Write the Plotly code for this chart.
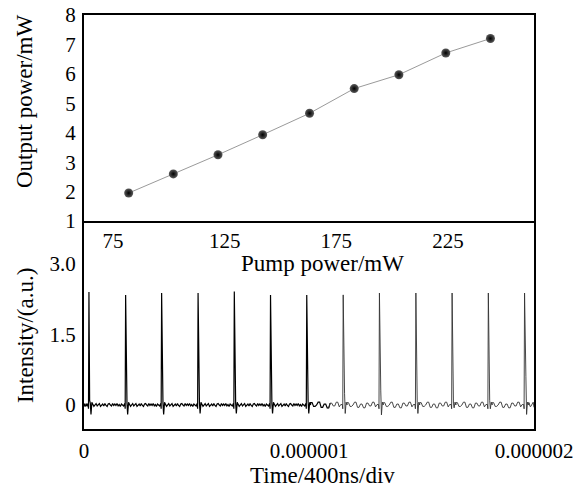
import plotly.graph_objects as go
from plotly.subplots import make_subplots

# ---------------- data: top panel ----------------
pump_power = [82, 102, 122, 142, 163, 183, 203, 224, 244]
output_power = [1.95, 2.6, 3.25, 3.93, 4.66, 5.5, 5.97, 6.71, 7.2]
top_x_ticks = [75, 125, 175, 225]
top_y_ticks = [1, 2, 3, 4, 5, 6, 7, 8]

# ---------------- data: bottom panel (pulse train, microseconds) ----------------
pulse_time_us = [0.022, 0.185, 0.345, 0.507, 0.668, 0.829, 0.990, 1.152, 1.313,
                 1.475, 1.636, 1.797, 1.958]
pulse_peak = [2.40, 2.34, 2.38, 2.38, 2.41, 2.34, 2.34, 2.34, 2.38, 2.38, 2.38, 2.38, 2.38]
pulse_tail = [0.10, 0.08, 0.10, 0.12, 0.10, 0.08, 0.17, 0.70, 0.80, 0.15, 0.10, 0.28, 1.00]
pulse_tail2 = [0.04, 0.03, 0.04, 0.05, 0.04, 0.03, 0.08, 0.25, 0.30, 0.06, 0.04, 0.10, 0.60]
pulse_dip = [-0.20, -0.20, -0.20, -0.18, -0.18, -0.18, -0.18, -0.18, -0.21, -0.18, -0.06, -0.08, -0.20]
noise_left = [0.02, -0.03, 0.01, 0.03, -0.02, 0.00, 0.03, -0.03, 0.01, 0.02, -0.02,
              0.03, -0.01, -0.03, 0.02, 0.03, 0.00, -0.02, 0.03, -0.01, 0.02, -0.01,
              0.03, -0.02, 0.01, -0.03, 0.02, 0.00, -0.02, 0.03]
noise_right = [0.05, 0.05, -0.03, -0.03, 0.00, 0.06, 0.06, -0.05, -0.05, 0.02, 0.02,
               -0.06, -0.06, 0.04, 0.04, -0.02, -0.02, 0.06, 0.06, -0.04, 0.01, 0.01]
bottom_x_ticks = [0, 1e-6, 2e-6]
bottom_x_text = ["0", "0.000001", "0.000002"]
bottom_y_ticks = [0, 1.5, 3.0]
bottom_y_text = ["0", "1.5", "3.0"]
split_us = 1.10

# ---------------- assemble pulse trace from the arrays ----------------
xs, ys = [], []
prev_end = 0.0
for i, tp in enumerate(pulse_time_us):
    noise = noise_left if tp < split_us else noise_right
    gap_end = tp - 0.004
    n = len(noise)
    for k, v in enumerate(noise):
        xs.append(prev_end + (gap_end - prev_end) * k / (n - 1))
        ys.append(v)
    xs += [tp - 0.002, tp, tp + 0.003, tp + 0.006, tp + 0.009, tp + 0.013, tp + 0.017]
    ys += [-0.08, pulse_peak[i], pulse_tail[i], pulse_tail2[i], pulse_dip[i], 0.06, 0.0]
    prev_end = tp + 0.017
for k, v in enumerate(noise_right[:8]):
    xs.append(prev_end + (2.0 - prev_end) * k / 7)
    ys.append(v)

left_x = [x * 1e-6 for x in xs if x <= split_us]
left_y = [y for x, y in zip(xs, ys) if x <= split_us]
right_x = [x * 1e-6 for x in xs if x >= split_us - 0.02]
right_y = [y for x, y in zip(xs, ys) if x >= split_us - 0.02]

# ---------------- figure ----------------
fig = make_subplots(rows=2, cols=1, vertical_spacing=0.0,
                    row_heights=[0.4976, 0.5024])

fig.add_trace(go.Scatter(x=pump_power, y=output_power, mode="lines+markers",
                         line=dict(color="#9a9a9a", width=1),
                         marker=dict(color="#5a5a5a", size=9, line=dict(width=0),
                                     gradient=dict(type="radial", color="#000000")),
                         showlegend=False), row=1, col=1)

fig.add_trace(go.Scatter(x=left_x, y=left_y, mode="lines",
                         line=dict(color="black", width=1.2), showlegend=False),
              row=2, col=1)
fig.add_trace(go.Scatter(x=right_x, y=right_y, mode="lines",
                         line=dict(color="#333333", width=0.9), showlegend=False),
              row=2, col=1)

font_ticks = dict(family="Liberation Serif", size=21, color="black")
axis_common = dict(showline=True, linecolor="black", linewidth=2,
                   showgrid=False, zeroline=False, ticks="", tickfont=font_ticks,
                   automargin=False)

fig.update_xaxes(range=[62, 263.5], tickvals=top_x_ticks, ticklabelstandoff=0,
                 mirror=True, row=1, col=1, **axis_common)
fig.update_yaxes(range=[1, 8], tickvals=top_y_ticks, ticklabelstandoff=2,
                 mirror=True, row=1, col=1, **axis_common)
fig.update_xaxes(range=[0, 2e-6], tickvals=bottom_x_ticks, ticktext=bottom_x_text,
                 ticklabelstandoff=2, mirror=False, row=2, col=1, **axis_common)
fig.update_yaxes(range=[-0.51, 3.91], tickvals=bottom_y_ticks, ticktext=bottom_y_text,
                 ticklabelstandoff=2, mirror=True, row=2, col=1, **axis_common)

title_font = dict(family="Liberation Serif", size=23, color="black")
fig.add_annotation(text="Output power/mW", xref="paper", yref="paper", x=-0.131, y=0.79,
                   textangle=-90, showarrow=False, font=title_font,
                   xanchor="center", yanchor="middle")
fig.add_annotation(text="Intensity/(a.u.)", xref="paper", yref="paper", x=-0.131, y=0.2246,
                   textangle=-90, showarrow=False, font=title_font,
                   xanchor="center", yanchor="middle")
fig.add_annotation(text="Pump power/mW", xref="paper", yref="paper", x=0.531, y=0.3986,
                   showarrow=False, font=title_font, xanchor="center", yanchor="middle")
fig.add_annotation(text="Time/400ns/div", xref="paper", yref="paper", x=0.529, y=-0.112,
                   showarrow=False, font=title_font, xanchor="center", yanchor="middle")

fig.update_layout(width=585, height=490, margin=dict(l=84, r=51, t=15, b=61),
                  paper_bgcolor="white", plot_bgcolor="white",
                  font=dict(family="Liberation Serif", color="black"))

fig.write_html("out.html", config={"displayModeBar": False},
               post_script="document.body.style.margin='0';document.body.style.overflow='hidden';")
